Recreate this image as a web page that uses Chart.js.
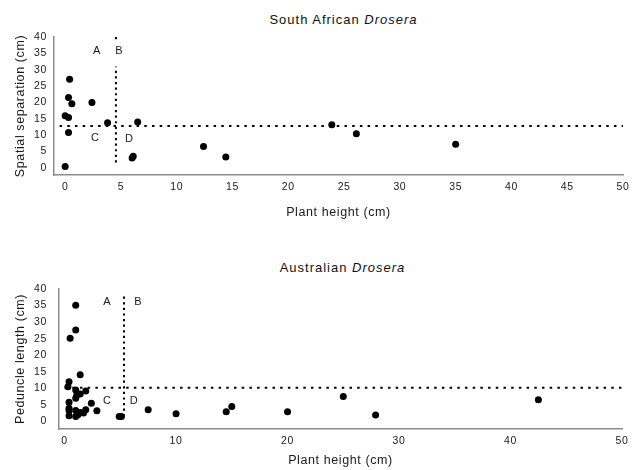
<!DOCTYPE html>
<html>
<head>
<meta charset="utf-8">
<script src="https://cdn.jsdelivr.net/npm/chart.js@4.4.1/dist/chart.umd.min.js"></script>
<style>
  body { margin: 0; background: #fff; width: 637px; height: 470px; position: relative; overflow: hidden;
         font-family: "Liberation Sans", Arial, sans-serif; }
  .title { position: absolute; left: 25px; width: 637px; text-align: center; font-size: 13px;
           letter-spacing: 1px; color: #111; }
  .box { position: absolute; left: 0; width: 637px; }
</style>
</head>
<body>
<div class="title" style="top:12px">South African <i>Drosera</i></div>
<div class="box" style="top:0;height:230px"><canvas id="chartSA" width="637" height="230"></canvas></div>
<div class="title" style="top:260px;left:24px">Australian <i>Drosera</i></div>
<div class="box" style="top:250px;height:220px"><canvas id="chartAU" width="637" height="220"></canvas></div>
<script>
// ===== South African Drosera =====
const saHeight = [0, 0, 0.3, 0.4, 0.3, 0.6, 0.3, 2.4, 3.8, 6.5, 6.0, 6.1, 12.4, 14.4, 23.9, 26.1, 35.0];
const saSeparation = [0.4, 15.9, 15.4, 27.1, 21.5, 19.6, 10.8, 20.0, 13.8, 14.0, 3.0, 3.5, 6.5, 3.3, 13.2, 10.4, 7.2];
const saHeightCut = 4.55;
const saSeparationCut = 12.8;
const saXTicks = [0, 5, 10, 15, 20, 25, 30, 35, 40, 45, 50];
const saYTicks = [0, 5, 10, 15, 20, 25, 30, 35, 40];
const saQuadrants = [
  { text: 'A', x: 2.85, y: 35.6 },
  { text: 'B', x: 4.85, y: 35.6 },
  { text: 'C', x: 2.7, y: 9.2 },
  { text: 'D', x: 5.75, y: 8.9 }
];

// ===== Australian Drosera =====
const auHeight = [1.0, 1.0, 0.5, 1.4, 0.4, 0.3, 1.0, 1.9, 1.1, 1.4, 1.0, 0.4, 0.4, 0.4, 2.4, 2.9, 1.0,
  1.4, 1.9, 0.4, 1.0, 1.2, 1.7, 4.9, 5.1, 7.5, 10.0, 14.5, 15.0, 20.0, 25.0, 27.9, 42.5];
const auPeduncle = [35.1, 27.6, 25.1, 14.1, 12.0, 10.5, 9.5, 9.2, 8.0, 8.3, 7.0, 5.8, 4.0, 3.3, 5.5, 3.2, 3.3,
  2.7, 3.5, 1.7, 1.5, 2.0, 2.5, 1.5, 1.5, 3.5, 2.3, 2.9, 4.5, 2.9, 7.5, 1.9, 6.5];
const auHeightCut = 5.33;
const auPeduncleCut = 10.2;
const auXTicks = [0, 10, 20, 30, 40, 50];
const auYTicks = [0, 5, 10, 15, 20, 25, 30, 35, 40];
const auQuadrants = [
  { text: 'A', x: 3.83, y: 36 },
  { text: 'B', x: 6.6, y: 36 },
  { text: 'C', x: 3.83, y: 6.3 },
  { text: 'D', x: 6.23, y: 6.3 }
];

const FONT = '"Liberation Sans", Arial, sans-serif';
const AXIS_COLOR = '#8c8c8c';
const TEXT_COLOR = '#1a1a1a';

const quadrantLabels = {
  id: 'quadrantLabels',
  afterDatasetsDraw(chart, args, opts) {
    const { ctx, scales } = chart;
    ctx.save();
    ctx.font = '11px ' + FONT;
    ctx.fillStyle = TEXT_COLOR;
    ctx.textAlign = 'center';
    ctx.textBaseline = 'middle';
    opts.items.forEach(q => {
      ctx.fillText(q.text, scales.x.getPixelForValue(q.x), scales.y.getPixelForValue(q.y));
    });
    ctx.restore();
  }
};

const spacing = {
  id: 'spacing',
  beforeDraw(chart) {
    chart.ctx.letterSpacing = '0.6px';
  }
};

function makeChart(id, cfg) {
  const points = cfg.xs.map((x, i) => ({ x, y: cfg.ys[i] }));
  return new Chart(document.getElementById(id), {
    type: 'scatter',
    data: {
      datasets: [
        {
          data: points,
          backgroundColor: '#000',
          borderWidth: 0,
          pointRadius: 3.5,
          order: 0
        },
        {
          type: 'line',
          data: [{ x: cfg.hFrom, y: cfg.yCut }, { x: 50, y: cfg.yCut }],
          borderColor: '#000',
          borderWidth: 2,
          borderDash: [2.5, 5.2],
          pointRadius: 0,
          order: 1
        },
        {
          type: 'line',
          data: cfg.vLine.map(y => ({ x: cfg.xCut, y })),
          borderColor: '#000',
          borderWidth: 2,
          borderDash: [2.2, 3.4],
          pointRadius: 0,
          spanGaps: false,
          order: 1
        }
      ]
    },
    options: {
      responsive: false,
      animation: false,
      events: [],
      layout: { padding: cfg.padding },
      plugins: {
        legend: { display: false },
        tooltip: { enabled: false },
        quadrantLabels: { items: cfg.quadrants }
      },
      scales: {
        x: {
          type: 'linear',
          min: cfg.xMin,
          max: 50,
          afterBuildTicks: s => { s.ticks = cfg.xTicks.map(v => ({ value: v })); },
          afterFit: s => { s.height = cfg.xHeight; },
          grid: { drawOnChartArea: false, drawTicks: false },
          border: { color: AXIS_COLOR, width: 1.5 },
          ticks: { color: TEXT_COLOR, padding: 6, font: { family: FONT, size: 10.5 } },
          title: {
            display: true,
            text: 'Plant height (cm)',
            color: TEXT_COLOR,
            padding: { top: 0, bottom: cfg.xTitlePad },
            font: { family: FONT, size: 12.5 }
          }
        },
        y: {
          type: 'linear',
          min: cfg.yMin,
          max: 40,
          afterBuildTicks: s => { s.ticks = cfg.yTicks.map(v => ({ value: v })); },
          afterFit: s => { s.width = cfg.yWidth; },
          grid: { drawOnChartArea: false, drawTicks: false },
          border: { color: AXIS_COLOR, width: 1.5 },
          ticks: { color: TEXT_COLOR, padding: cfg.yTickPad, font: { family: FONT, size: 10.5 } },
          title: {
            display: true,
            text: cfg.yTitle,
            color: TEXT_COLOR,
            padding: { top: 13, bottom: 0 },
            font: { family: FONT, size: 12.5 }
          }
        }
      }
    },
    plugins: [quadrantLabels, spacing]
  });
}

makeChart('chartSA', {
  xs: saHeight, ys: saSeparation,
  xCut: saHeightCut, yCut: saSeparationCut,
  hFrom: -0.5, vLine: [1.6, 31, null, 39.3, 40],
  xMin: -1, yMin: -2.2,
  xTicks: saXTicks, yTicks: saYTicks,
  quadrants: saQuadrants,
  yTitle: 'Spatial separation (cm)',
  padding: { top: 37, right: 14, left: 0, bottom: 0 },
  xHeight: 55, yWidth: 54, yTickPad: 7, xTitlePad: 10
});

makeChart('chartAU', {
  xs: auHeight, ys: auPeduncle,
  xCut: auHeightCut, yCut: auPeduncleCut,
  hFrom: 0, vLine: [1.5, 38.7],
  xMin: -0.5, yMin: -2.3,
  xTicks: auXTicks, yTicks: auYTicks,
  quadrants: auQuadrants,
  yTitle: 'Peduncle length (cm)',
  padding: { top: 39, right: 15, left: 0, bottom: 0 },
  xHeight: 41, yWidth: 59, yTickPad: 12, xTitlePad: 2
});
</script>
</body>
</html>
